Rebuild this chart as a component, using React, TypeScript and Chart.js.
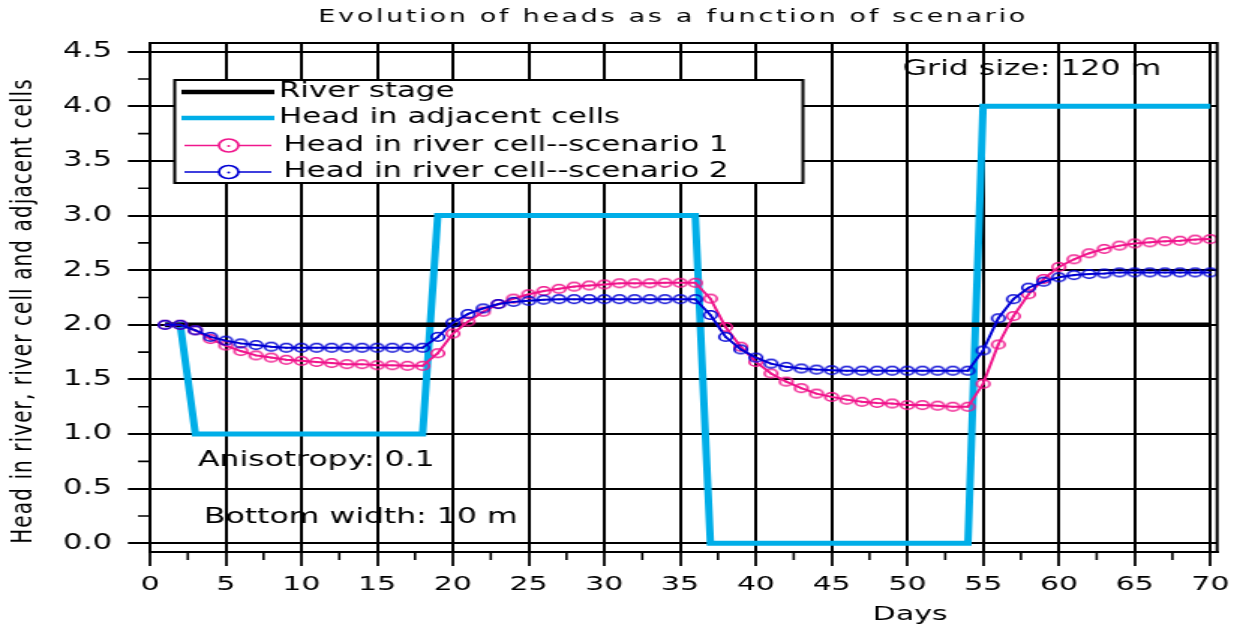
import React, { useEffect, useRef } from 'react';
import { Chart, registerables } from 'chart.js';

Chart.register(...registerables);

// ---------- data ----------
const days = [
  1, 2, 3, 4, 5, 6, 7, 8, 9, 10, 11, 12, 13, 14, 15, 16, 17, 18, 19, 20,
  21, 22, 23, 24, 25, 26, 27, 28, 29, 30, 31, 32, 33, 34, 35, 36, 37, 38, 39, 40,
  41, 42, 43, 44, 45, 46, 47, 48, 49, 50, 51, 52, 53, 54, 55, 56, 57, 58, 59, 60,
  61, 62, 63, 64, 65, 66, 67, 68, 69, 70,
];

const riverStage = [
  2, 2, 2, 2, 2, 2, 2, 2, 2, 2, 2, 2, 2, 2, 2, 2, 2, 2, 2, 2,
  2, 2, 2, 2, 2, 2, 2, 2, 2, 2, 2, 2, 2, 2, 2, 2, 2, 2, 2, 2,
  2, 2, 2, 2, 2, 2, 2, 2, 2, 2, 2, 2, 2, 2, 2, 2, 2, 2, 2, 2,
  2, 2, 2, 2, 2, 2, 2, 2, 2, 2,
];

const adjacentHead = [
  2, 2, 1, 1, 1, 1, 1, 1, 1, 1, 1, 1, 1, 1, 1, 1, 1, 1, 3, 3,
  3, 3, 3, 3, 3, 3, 3, 3, 3, 3, 3, 3, 3, 3, 3, 3, 0, 0, 0, 0,
  0, 0, 0, 0, 0, 0, 0, 0, 0, 0, 0, 0, 0, 0, 4, 4, 4, 4, 4, 4,
  4, 4, 4, 4, 4, 4, 4, 4, 4, 4,
];

const scenario1 = [
  2.0, 2.0, 1.95, 1.87, 1.81, 1.76, 1.72, 1.7, 1.68, 1.67,
  1.66, 1.65, 1.64, 1.64, 1.63, 1.63, 1.625, 1.625, 1.74, 1.92,
  2.03, 2.12, 2.19, 2.24, 2.28, 2.31, 2.33, 2.35, 2.36, 2.37,
  2.38, 2.38, 2.38, 2.385, 2.385, 2.385, 2.24, 1.98, 1.8, 1.66,
  1.555, 1.48, 1.42, 1.37, 1.34, 1.315, 1.295, 1.285, 1.28, 1.265,
  1.265, 1.26, 1.25, 1.25, 1.46, 1.82, 2.08, 2.28, 2.42, 2.53,
  2.6, 2.655, 2.695, 2.725, 2.745, 2.755, 2.765, 2.77, 2.78, 2.785,
];

const scenario2 = [
  2.0, 2.0, 1.95, 1.89, 1.855, 1.83, 1.815, 1.8, 1.79, 1.79,
  1.79, 1.79, 1.79, 1.79, 1.79, 1.79, 1.79, 1.79, 1.89, 2.02,
  2.1, 2.15, 2.19, 2.21, 2.22, 2.23, 2.235, 2.235, 2.235, 2.235,
  2.235, 2.235, 2.235, 2.235, 2.235, 2.235, 2.09, 1.89, 1.775, 1.7,
  1.645, 1.615, 1.6, 1.59, 1.585, 1.58, 1.58, 1.58, 1.58, 1.58,
  1.58, 1.58, 1.58, 1.58, 1.765, 2.06, 2.235, 2.34, 2.395, 2.435,
  2.455, 2.465, 2.47, 2.48, 2.48, 2.48, 2.48, 2.48, 2.48, 2.48,
];

const xTicks = [0, 5, 10, 15, 20, 25, 30, 35, 40, 45, 50, 55, 60, 65, 70];
const xMinorTicks = [2.5, 7.5, 12.5, 17.5, 22.5, 27.5, 32.5, 37.5, 42.5, 47.5, 52.5, 57.5, 62.5, 67.5];
const yTicks = [0, 0.5, 1, 1.5, 2, 2.5, 3, 3.5, 4, 4.5];
const yTickLabels = ['0.0', '0.5', '1.0', '1.5', '2.0', '2.5', '3.0', '3.5', '4.0', '4.5'];
const yMinorTicks = [0.25, 0.75, 1.25, 1.75, 2.25, 2.75, 3.25, 3.75, 4.25];

const seriesNames = [
  'River stage',
  'Head in adjacent cells',
  'Head in river cell--scenario 1',
  'Head in river cell--scenario 2',
];
const chartTitle = 'Evolution of heads as a function of scenario';
const xTitle = 'Days';
const yTitle = 'Head in river, river cell and adjacent cells';
const notes = ['Grid size: 120 m', 'Anisotropy: 0.1', 'Bottom width: 10 m'];

// ---------- layout ----------
const CANVAS_W = 827;
const CANVAS_H = 630;
const SCREEN_W = 1240;
const FONT = "'DejaVu Sans', sans-serif";

const COLOR_RIVER = '#000000';
const COLOR_ADJ = '#00aee8';
const COLOR_S1 = '#f0168c';
const COLOR_S2 = '#0000d4';

function makeMarker(color: string) {
  const c = document.createElement('canvas');
  c.width = 12;
  c.height = 12;
  const g = c.getContext('2d');
  if (g) {
    g.strokeStyle = color;
    g.lineWidth = 1.6;
    g.beginPath();
    g.arc(6, 6, 4.3, 0, Math.PI * 2);
    g.stroke();
    g.fillStyle = color;
    g.beginPath();
    g.arc(6, 6.4, 0.8, 0, Math.PI * 2);
    g.fill();
  }
  return c;
}

const decorPlugin = {
  id: 'decor',
  afterDraw(chart: any) {
    const { ctx, chartArea: a, scales } = chart;
    const xs = scales.x;
    const ys = scales.y;
    ctx.save();
    ctx.strokeStyle = '#000';
    ctx.lineWidth = 1.6;
    ctx.beginPath();
    for (const v of xMinorTicks) {
      const px = xs.getPixelForValue(v);
      ctx.moveTo(px, a.bottom);
      ctx.lineTo(px, a.bottom + 8);
    }
    for (const v of yMinorTicks) {
      const py = ys.getPixelForValue(v);
      ctx.moveTo(a.left - 8, py);
      ctx.lineTo(a.left, py);
    }
    ctx.stroke();

    // frame
    ctx.lineWidth = 2;
    ctx.strokeRect(a.left, a.top, a.right - a.left, a.bottom - a.top);

    // legend
    const lx = 116.5, ly = 80, lw = 419, lh = 103;
    ctx.fillStyle = '#fff';
    ctx.fillRect(lx, ly, lw, lh);
    ctx.lineWidth = 2;
    ctx.strokeStyle = '#000';
    ctx.strokeRect(lx, ly, lw, lh);
    const rows = [92, 118, 145.5, 172];
    const dsets = chart.data.datasets;
    for (let i = 0; i < 4; i++) {
      const ds = dsets[i];
      const y = rows[i];
      ctx.save();
      ctx.strokeStyle = ds.borderColor;
      if (i < 2) {
        ctx.lineWidth = 4.5;
        ctx.beginPath();
        ctx.moveTo(121, y);
        ctx.lineTo(183, y);
        ctx.stroke();
      } else {
        ctx.lineWidth = 1.4;
        ctx.beginPath();
        ctx.moveTo(123, y);
        ctx.lineTo(146, y);
        ctx.moveTo(159, y);
        ctx.lineTo(181, y);
        ctx.stroke();
        ctx.lineWidth = 1.7;
        ctx.beginPath();
        ctx.arc(152.5, y, 6.5, 0, Math.PI * 2);
        ctx.stroke();
        ctx.fillStyle = ds.borderColor;
        ctx.beginPath();
        ctx.arc(152.5, y + 0.5, 1, 0, Math.PI * 2);
        ctx.fill();
      }
      ctx.restore();
      ctx.fillStyle = '#000';
      ctx.font = `20.6px ${FONT}`;
      ctx.textAlign = 'left';
      ctx.textBaseline = 'middle';
      ctx.fillText(seriesNames[i], i < 2 ? 186 : 189, y);
    }

    // notes
    ctx.fillStyle = '#000';
    ctx.font = `21px ${FONT}`;
    ctx.textAlign = 'left';
    ctx.textBaseline = 'middle';
    ctx.fillText(notes[0], 602, 70);
    ctx.fillText(notes[1], 132, 461);
    ctx.fillText(notes[2], 136, 518);

    // title
    ctx.save();
    ctx.font = `18px ${FONT}`;
    (ctx as any).letterSpacing = '1.8px';
    ctx.textAlign = 'center';
    ctx.textBaseline = 'middle';
    ctx.fillText(chartTitle, 449, 17);
    ctx.restore();

    // x title
    ctx.font = `20px ${FONT}`;
    ctx.textAlign = 'center';
    ctx.textBaseline = 'middle';
    ctx.fillText(xTitle, 607, 615);

    // y title
    ctx.save();
    ctx.translate(15.5, 311);
    ctx.rotate(-Math.PI / 2);
    ctx.font = `20px ${FONT}`;
    (ctx as any).letterSpacing = '1.1px';
    ctx.textAlign = 'center';
    ctx.textBaseline = 'middle';
    ctx.fillText(yTitle, 0, 0);
    ctx.restore();

    ctx.restore();
  },
};

function pts(values: number[]) {
  return days.map((d, i) => ({ x: d, y: values[i] }));
}

export default function App() {
  const ref = useRef<HTMLCanvasElement>(null);
  useEffect(() => {
    const canvas = ref.current;
    if (!canvas) return;
    const chart = new Chart(canvas, {
      type: 'line',
      data: {
        datasets: [
          {
            label: seriesNames[0],
            data: pts(riverStage),
            borderColor: COLOR_RIVER,
            borderWidth: 4.5,
            pointRadius: 0,
            order: 2,
          },
          {
            label: seriesNames[1],
            data: pts(adjacentHead),
            borderColor: COLOR_ADJ,
            borderWidth: 5,
            pointRadius: 0,
            order: 3,
          },
          {
            label: seriesNames[2],
            data: pts(scenario1),
            borderColor: COLOR_S1,
            borderWidth: 2,
            pointStyle: makeMarker(COLOR_S1),
            pointRadius: 5,
            order: 1,
          },
          {
            label: seriesNames[3],
            data: pts(scenario2),
            borderColor: COLOR_S2,
            borderWidth: 2,
            pointStyle: makeMarker(COLOR_S2),
            pointRadius: 5,
            order: 0,
          },
        ] as any,
      },
      options: {
        responsive: false,
        devicePixelRatio: 1,
        animation: false,
        layout: { padding: { left: 0, top: 43, right: 13.7, bottom: 0 } },
        elements: { line: { tension: 0 } },
        plugins: {
          legend: { display: false },
          title: { display: false },
          tooltip: { enabled: false },
        },
        scales: {
          x: {
            type: 'linear',
            min: 0,
            max: 70.45,
            afterBuildTicks: (s: any) => {
              s.ticks = xTicks.map((v) => ({ value: v }));
            },
            afterFit: (s: any) => {
              s.height = 78;
            },
            ticks: {
              color: '#000',
              font: { family: FONT, size: 20 },
              padding: 7,
              maxRotation: 0,
              autoSkip: false,
              callback: (v: any) => String(v),
            },
            grid: { color: '#000', lineWidth: 2, drawTicks: true, tickLength: 14, tickWidth: 1.8 },
            border: { display: true, color: '#000', width: 2 },
          },
          y: {
            type: 'linear',
            min: -0.08,
            max: 4.58,
            afterBuildTicks: (s: any) => {
              s.ticks = yTicks.map((v) => ({ value: v }));
            },
            afterFit: (s: any) => {
              s.width = 100;
            },
            ticks: {
              color: '#000',
              font: { family: FONT, size: 20.5 },
              padding: 10.6,
              autoSkip: false,
              callback: (_v: any, i: number) => yTickLabels[i],
            },
            grid: { color: '#000', lineWidth: 2, drawTicks: true, tickLength: 14.7 },
            border: { display: true, color: '#000', width: 2 },
          },
        },
      } as any,
      plugins: [decorPlugin],
    });
    return () => chart.destroy();
  }, []);

  return (
    <div style={{ position: 'fixed', left: 0, top: 0, width: SCREEN_W, height: CANVAS_H, background: '#fff' }}>
      <canvas
        ref={ref}
        width={CANVAS_W}
        height={CANVAS_H}
        style={{ width: `${SCREEN_W}px`, height: `${CANVAS_H}px`, display: 'block' }}
      />
    </div>
  );
}
